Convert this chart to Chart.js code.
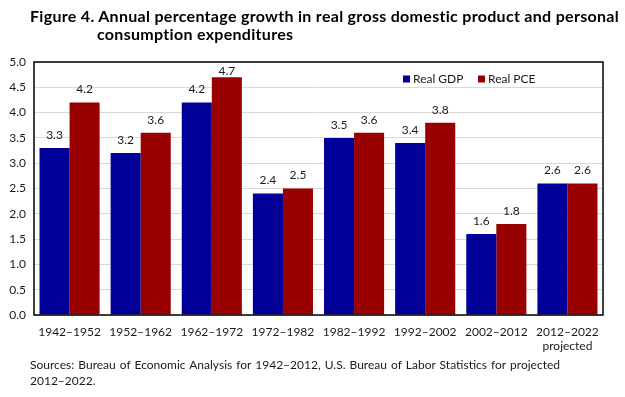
<!DOCTYPE html>
<html>
<head>
<meta charset="utf-8">
<script src="https://cdn.jsdelivr.net/npm/chart.js@4"></script>
<style>
  html, body { margin: 0; padding: 0; background: #fff; }
  #wrap { position: relative; width: 625px; height: 397px; overflow: hidden; font-family: Lato, sans-serif; color: #1a1a1a; }
  #chart { position: absolute; left: 0; top: 0; }
  .title { position: absolute; font-weight: bold; font-size: 16px; letter-spacing: 0.3px; white-space: nowrap; color: #000; }
  .src { position: absolute; left: 30px; font-size: 12px; word-spacing: 1px; white-space: nowrap; }
</style>
</head>
<body>
<div id="wrap">
  <canvas id="chart" width="625" height="397"></canvas>
  <div class="title" style="left:30px; top:6px;">Figure 4. Annual percentage growth in real gross domestic product and personal</div>
  <div class="title" style="left:97px; top:24px;">consumption expenditures</div>
  <div class="src" style="top:357px;">Sources: Bureau of Economic Analysis for 1942–2012, U.S. Bureau of Labor Statistics for projected</div>
  <div class="src" style="top:373px;">2012–2022.</div>
</div>
<script>
// Chart data
const periods = ['1942–1952', '1952–1962', '1962–1972', '1972–1982', '1982–1992', '1992–2002', '2002–2012', ['2012–2022', 'projected']];
const realGDP = [3.3, 3.2, 4.2, 2.4, 3.5, 3.4, 1.6, 2.6];
const realPCE = [4.2, 3.6, 4.7, 2.5, 3.6, 3.8, 1.8, 2.6];
const yTicks = [0, 0.5, 1, 1.5, 2, 2.5, 3, 3.5, 4, 4.5, 5];

const FONT = 'Lato, sans-serif';

// value labels above each bar (kept inside the frame)
const valueLabels = {
  id: 'valueLabels',
  afterDatasetsDraw(chart) {
    const c = chart.ctx;
    const top = chart.chartArea.top;
    c.save();
    c.font = '12px ' + FONT;
    c.fillStyle = '#1a1a1a';
    c.textAlign = 'center';
    c.textBaseline = 'bottom';
    chart.data.datasets.forEach((ds, i) => {
      chart.getDatasetMeta(i).data.forEach((bar, j) => {
        const y = Math.max(bar.y - 7, top + 15);
        c.fillText(ds.data[j].toFixed(1), bar.x, y);
      });
    });
    c.restore();
  }
};

// frame round plot area + legend inside it
const frameAndLegend = {
  id: 'frameAndLegend',
  afterDraw(chart) {
    const c = chart.ctx;
    const a = chart.chartArea;
    c.save();
    c.strokeStyle = '#000';
    c.lineWidth = 1.5;
    c.strokeRect(a.left, a.top, a.right - a.left, a.bottom - a.top);

    c.font = '12px ' + FONT;
    c.textBaseline = 'middle';
    c.textAlign = 'left';
    let x = 403;
    const y = 79;
    chart.data.datasets.forEach(ds => {
      c.fillStyle = ds.backgroundColor;
      c.fillRect(x, y - 3.5, 7, 7);
      c.fillStyle = '#1a1a1a';
      c.fillText(ds.label, x + 10, y);
      x += 75;
    });
    c.restore();
  }
};

new Chart(document.getElementById('chart'), {
  type: 'bar',
  data: {
    labels: periods,
    datasets: [
      { label: 'Real GDP', data: realGDP, backgroundColor: '#000099' },
      { label: 'Real PCE', data: realPCE, backgroundColor: '#990000' }
    ]
  },
  options: {
    responsive: false,
    animation: false,
    datasets: { bar: { categoryPercentage: 0.845, barPercentage: 1.0 } },
    layout: { padding: { top: 62, left: 0, right: 22, bottom: 0 } },
    plugins: {
      legend: { display: false },
      title: { display: false },
      tooltip: { enabled: false }
    },
    scales: {
      x: {
        grid: { display: false, drawTicks: false },
        border: { display: false },
        ticks: { color: '#1a1a1a', font: { family: FONT, size: 12 }, padding: 10, maxRotation: 0 },
        afterFit(scale) { scale.height = 82; }
      },
      y: {
        min: 0,
        max: 5,
        afterBuildTicks(scale) { scale.ticks = yTicks.map(v => ({ value: v })); },
        grid: { color: '#d9d9d9', drawTicks: false },
        border: { display: false },
        ticks: {
          color: '#1a1a1a',
          font: { family: FONT, size: 12 },
          padding: 8,
          callback: v => v.toFixed(1)
        },
        afterFit(scale) { scale.width = 34; }
      }
    }
  },
  plugins: [valueLabels, frameAndLegend]
});
</script>
</body>
</html>
